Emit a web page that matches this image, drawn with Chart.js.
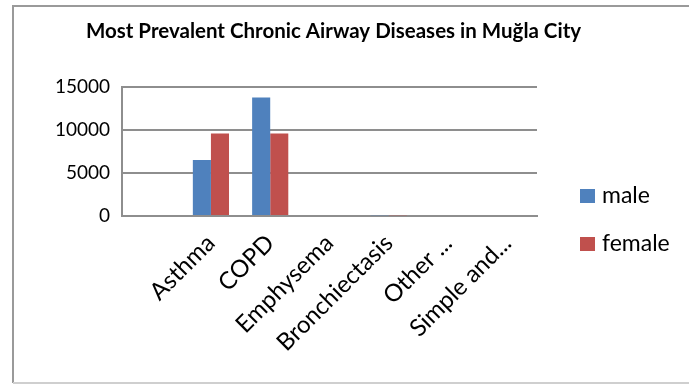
<!DOCTYPE html>
<html>
<head>
<meta charset="utf-8">
<script src="https://cdn.jsdelivr.net/npm/chart.js@4"></script>
<style>
  body { margin: 0; background: #fff; }
  #wrap { width: 689px; height: 385px; position: relative; }
</style>
</head>
<body>
<div id="wrap"><canvas id="myChart"></canvas></div>
<script>
/* data */
const categories = ['', 'Asthma', 'COPD', 'Emphysema', 'Bronchiectasis', 'Other ...', 'Simple and...'];
const maleCases = [0, 6500, 13750, 0, 90, 0, 0];
const femaleCases = [0, 9550, 9550, 0, 100, 0, 0];
const yTicks = [0, 5000, 10000, 15000];

const FONT = 'Lato, "Open Sans", sans-serif';

// outer frame + legend on the right, like the Excel original
const frame = {
  id: 'frame',
  afterDraw(chart) {
    const c = chart.ctx;
    c.save();
    c.strokeStyle = '#9a9a9a';
    c.lineWidth = 2;
    c.beginPath();
    c.moveTo(692, 6);
    c.lineTo(13, 6);
    c.lineTo(13, 383);
    c.stroke();
    c.strokeStyle = '#cfcfcf';
    c.beginPath();
    c.moveTo(13, 383);
    c.lineTo(692, 383);
    c.stroke();

    // legend
    c.font = '23px ' + FONT;
    c.textBaseline = 'middle';
    chart.data.datasets.forEach((ds, i) => {
      const y = 196 + i * 48;
      c.fillStyle = ds.backgroundColor;
      c.fillRect(580, y - 7, 15, 14);
      c.fillStyle = '#000';
      c.fillText(ds.label, 602, y);
    });
    c.restore();
  }
};

new Chart(document.getElementById('myChart'), {
  type: 'bar',
  data: {
    labels: categories,
    datasets: [
      {
        label: 'male',
        data: maleCases,
        backgroundColor: '#4F81BD',
        categoryPercentage: 0.61,
        barPercentage: 1
      },
      {
        label: 'female',
        data: femaleCases,
        backgroundColor: '#C0504D',
        categoryPercentage: 0.61,
        barPercentage: 1
      }
    ]
  },
  options: {
    responsive: true,
    maintainAspectRatio: false,
    animation: false,
    layout: {
      padding: { left: 0, right: 22, top: 0, bottom: 19 }
    },
    scales: {
      x: {
        grid: { display: false, drawTicks: false },
        border: { color: '#8e8e8e', width: 2 },
        ticks: {
          color: '#000',
          font: { family: FONT, size: 24 },
          minRotation: 45,
          maxRotation: 45,
          autoSkip: false,
          padding: 13
        },
        afterFit(scale) { scale.height = 150; }
      },
      y: {
        min: 0,
        max: 15000,
        afterBuildTicks(scale) {
          scale.ticks = yTicks.map(v => ({ value: v }));
        },
        grid: { color: '#8e8e8e', lineWidth: 2, drawTicks: false },
        border: { color: '#8e8e8e', width: 2 },
        ticks: {
          color: '#000',
          font: { family: FONT, size: 19 },
          padding: 12,
          callback: v => String(v)
        },
        afterFit(scale) { scale.width = 122; }
      },
      // empty right-hand box that leaves room for the legend
      side: {
        position: 'right',
        grid: { display: false, drawTicks: false },
        border: { display: false },
        ticks: { display: false },
        afterFit(scale) { scale.width = 130; }
      }
    },
    plugins: {
      legend: { display: false },
      tooltip: { enabled: false },
      title: {
        display: true,
        text: 'Most Prevalent Chronic Airway Diseases in Muğla City',
        color: '#000',
        font: { family: FONT, size: 20.5, weight: 'bold', lineHeight: 1.2 },
        padding: { top: 19, bottom: 43 }
      }
    }
  },
  plugins: [frame]
});
</script>
</body>
</html>
